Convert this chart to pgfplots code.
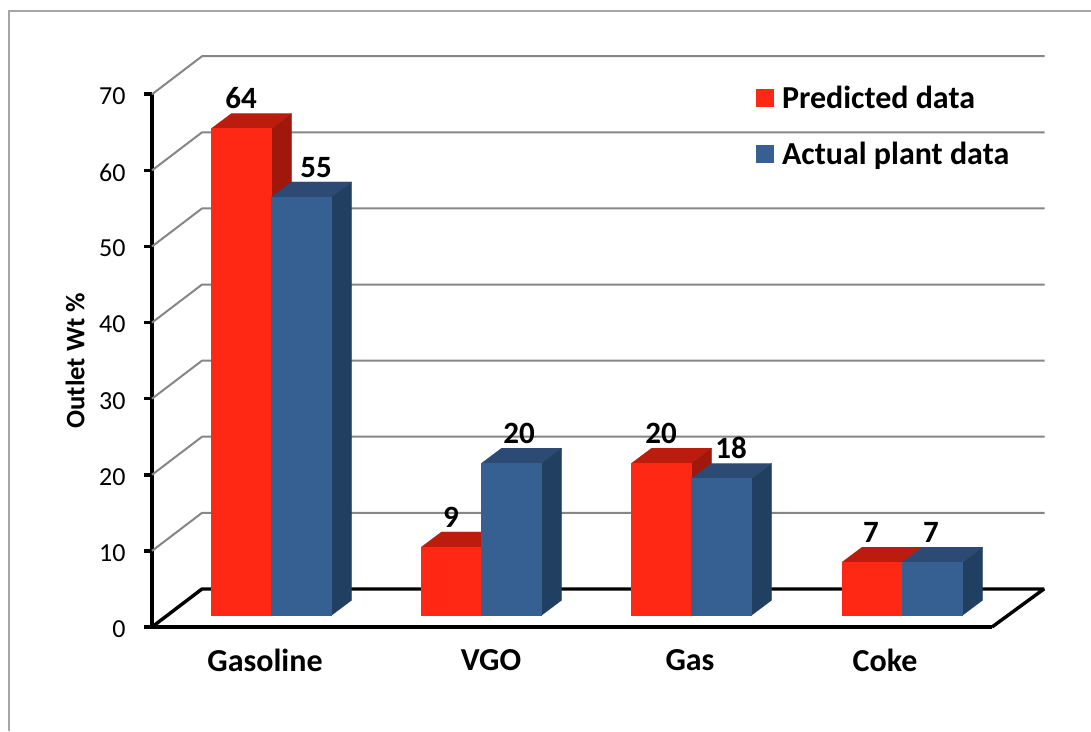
\documentclass[border=0pt]{standalone}
\usepackage{pgfplots}
\pgfplotsset{compat=1.18}
\usepackage{fontspec}
\setmainfont{Carlito}
\definecolor{redfront}{HTML}{FF2815}
\definecolor{redtop}{HTML}{BC1C0D}
\definecolor{redside}{HTML}{A0180B}
\definecolor{bluefront}{HTML}{376092}
\definecolor{bluetop}{HTML}{2C4A73}
\definecolor{blueside}{HTML}{213F60}
\definecolor{gridgray}{HTML}{868686}
\definecolor{framegray}{HTML}{A6A6A6}
\tikzset{raised/.style={yshift=11.6pt,xshift=-0.5pt}}

% One block: left edge, right edge, value, colour prefix
\newcommand{\block}[4]{%
  \pgfmathsetmacro{\xa}{#1+20}%
  \pgfmathsetmacro{\xb}{#2+20}%
  \pgfmathsetmacro{\vt}{#3+1.97}%
  \pgfmathsetmacro{\lo}{1.97}%
  \addplot[forget plot,raised,fill=#4top,draw=#4top,line width=.1pt]
    coordinates {(#1,#3)(#2,#3)(\xb,\vt)(\xa,\vt)} -- cycle;
  \addplot[forget plot,raised,fill=#4side,draw=#4side,line width=.1pt]
    coordinates {(#2,0)(#2,#3)(\xb,\vt)(\xb,\lo)} -- cycle;
  \addplot[forget plot,raised,fill=#4front,draw=#4front,line width=.1pt]
    coordinates {(#1,0)(#1,#3)(#2,#3)(#2,0)} -- cycle;
}
% Value printed above a block
\newcommand{\vlabel}[2]{%
  \node[anchor=base,font=\fontsize{31}{36}\selectfont\bfseries,yshift=31.3pt]
    at (axis cs:#1,#2) {#2};
}
% Grid line running along the side wall and the back wall
\newcommand{\wall}[2]{%
  \addplot[forget plot,gridgray,line width=2pt,line join=round]
    coordinates {(152,#1)(202,#2)(1044.5,#2)};
}

\begin{document}
\begin{tikzpicture}[x=1pt,y=1pt]
\useasboundingbox (0,0) rectangle (1091,731);
\draw[framegray,line width=2pt] (8.5,0) -- (8.5,720) -- (1091,720);
\begin{axis}[
  at={(152pt,104pt)},anchor=south west,
  x=1pt,y=7.61pt,
  xmin=152,xmax=992,ymin=0,ymax=70,
  clip=false,
  axis x line*=bottom,axis y line*=left,
  axis line style={-,black,line width=3.6pt},
  xtick={265,491,690,885},
  xticklabels={Gasoline,VGO,Gas,Coke},
  xtick style={draw=none},
  xticklabel style={font=\fontsize{32}{38}\selectfont\bfseries,yshift=-11pt},
  ytick={0,10,...,70},
  tick align=outside,
  major tick length=8pt,
  ytick style={black,line width=3.6pt},
  /pgf/number format/assume math mode=true,
  yticklabel style={font=\fontsize{26}{30}\selectfont,xshift=-15pt,yshift=-2pt},
  ylabel={Outlet Wt \%},
  every axis y label/.style={at={(axis cs:75,35)},anchor=center,rotate=90,
    font=\fontsize{26.7}{30}\selectfont\bfseries},
  legend style={at={(axis cs:756,71.35)},anchor=north west,draw=none,fill=none,
    font=\fontsize{32}{38}\selectfont\bfseries,
    row sep=28pt,inner sep=0pt,outer sep=0pt,
    /tikz/every odd column/.append style={column sep=6pt}},
  legend cell align=left,
  legend image code/.code={\path[#1,draw=none] (0pt,-9pt) rectangle (18pt,9pt);},
]
\wall{10}{15}
\wall{20}{25}
\wall{30}{35}
\wall{40}{45}
\wall{50}{55}
\wall{60}{65}
\wall{70}{75}
% Floor outline
\addplot[forget plot,black,line width=3.4pt,line join=bevel]
  coordinates {(152,0)(202,5)(1044,5)(992,0)};

\block{212}{272}{64}{red}
\block{272}{332}{55}{blue}
\block{422}{482}{9}{red}
\block{482}{542}{20}{blue}
\block{632}{692}{20}{red}
\block{692}{752}{18}{blue}
\block{842.5}{902.7}{7}{red}
\block{902.7}{963}{7}{blue}

\vlabel{241}{64}
\vlabel{316}{55}
\vlabel{451}{9}
\vlabel{519}{20}
\vlabel{661}{20}
\vlabel{731}{18}
\vlabel{871}{7}
\vlabel{931}{7}

\addlegendimage{fill=redfront}
\addlegendentry{Predicted data}
\addlegendimage{fill=bluefront}
\addlegendentry{Actual plant data}
\end{axis}
\end{tikzpicture}
\end{document}
